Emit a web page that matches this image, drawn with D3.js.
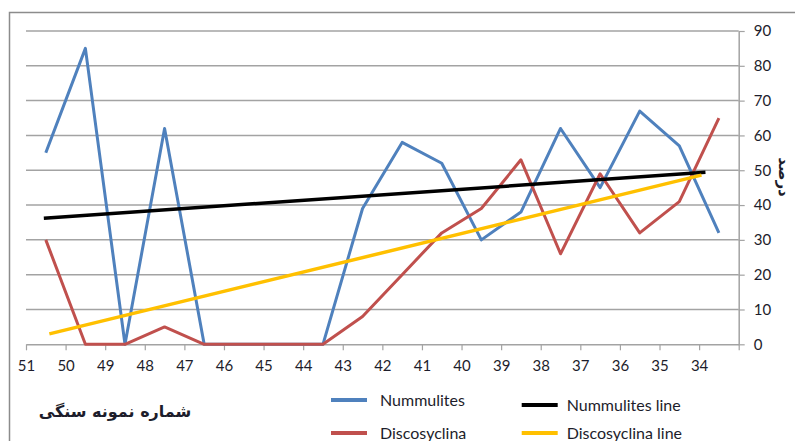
<!DOCTYPE html>
<html>
<head>
<meta charset="utf-8">
<script src="https://cdn.jsdelivr.net/npm/d3@7/dist/d3.min.js"></script>
<style>
  body { margin: 0; background: #fff; }
  svg { display: block; }
  text { font-family: Lato, "Open Sans", sans-serif; fill: #1d1d2b; }
</style>
</head>
<body>
<svg id="chart" width="795" height="441"></svg>
<script>
// Sample numbers along the section (left to right)
const sampleLabels = ["51","50","49","48","47","46","45","44","43","42","41","40","39","38","37","36","35","34"];

// Percentage of each genus per sample
const nummulites   = [55, 85, 0, 62, 0, 0, 0, 0, 39, 58, 52, 30, 38, 62, 45, 67, 57, 32];
const discosyclina = [30, 0, 0, 5, 0, 0, 0, 0, 8, 20, 32, 39, 53, 26, 49, 32, 41, 65];

// Straight guide lines: [position along sample axis, percent]
const nummulitesLine   = [[0.45, 36.2], [17.16, 49.4]];
const discosyclinaLine = [[0.59, 3.0], [17.06, 48.6]];

const yTicks = [0, 10, 20, 30, 40, 50, 60, 70, 80, 90];

const series = [
  { name: "Nummulites",        color: "#4F81BD" },
  { name: "Discosyclina",      color: "#C0504D" },
  { name: "Nummulites line",   color: "#000000" },
  { name: "Discosyclina line", color: "#FFC000" }
];

const svg = d3.select("#chart");
const gridColor = "#a3a3a3";

// Scales: samples sit in the middle of each slot, labels sit on the slot edges
const x = d3.scaleLinear().domain([0, sampleLabels.length]).range([26, 738.7]);
const y = d3.scaleLinear().domain([0, 90]).range([344.3, 31]);

// Chart frame
svg.append("rect")
  .attr("x", 9.5).attr("y", 12.5)
  .attr("width", 820).attr("height", 460)
  .attr("fill", "none").attr("stroke", "#8c8c8c").attr("stroke-width", 1.5);

// Horizontal gridlines
svg.append("g").selectAll("line")
  .data(yTicks.filter(d => d > 0))
  .join("line")
  .attr("x1", x(0)).attr("x2", x(sampleLabels.length))
  .attr("y1", d => y(d)).attr("y2", d => y(d))
  .attr("stroke", gridColor).attr("stroke-width", 1.5);

// Bottom (sample) axis
const xAxis = d3.axisBottom(x)
  .tickValues(d3.range(sampleLabels.length + 1))
  .tickFormat(i => sampleLabels[i] || "")
  .tickSize(6).tickSizeOuter(0).tickPadding(10);
const gx = svg.append("g").attr("transform", `translate(0,${y(0)})`).call(xAxis);
gx.select(".domain").attr("stroke", gridColor).attr("stroke-width", 1.5);
gx.selectAll(".tick line").attr("stroke", gridColor).attr("stroke-width", 1.2);
gx.selectAll(".tick text").style("font-size", "15px").style("font-family", "Lato, sans-serif").attr("fill", "#1d1d2b");

// Right (percent) axis
const yAxis = d3.axisRight(y)
  .tickValues(yTicks)
  .tickSize(6).tickSizeOuter(0).tickPadding(9);
const gy = svg.append("g").attr("transform", `translate(${x(sampleLabels.length)},0)`).call(yAxis);
gy.select(".domain").attr("stroke", gridColor).attr("stroke-width", 1.5);
gy.selectAll(".tick line").attr("stroke", gridColor).attr("stroke-width", 1.2);
gy.selectAll(".tick text").style("font-size", "15px").style("font-family", "Lato, sans-serif").attr("fill", "#1d1d2b");

// Data lines
const line = d3.line().x((d, i) => x(i + 0.5)).y(d => y(d));
const guide = d3.line().x(d => x(d[0])).y(d => y(d[1]));

svg.append("path").datum(nummulites)
  .attr("d", line).attr("fill", "none")
  .attr("stroke", series[0].color).attr("stroke-width", 3).attr("stroke-linejoin", "round");
svg.append("path").datum(discosyclina)
  .attr("d", line).attr("fill", "none")
  .attr("stroke", series[1].color).attr("stroke-width", 3).attr("stroke-linejoin", "round");
svg.append("path").datum(nummulitesLine)
  .attr("d", guide).attr("fill", "none")
  .attr("stroke", series[2].color).attr("stroke-width", 3.5);
svg.append("path").datum(discosyclinaLine)
  .attr("d", guide).attr("fill", "none")
  .attr("stroke", series[3].color).attr("stroke-width", 3.5);

// Axis titles
svg.append("text")
  .attr("x", 115).attr("y", 417)
  .attr("text-anchor", "middle")
  .style("font-family", "'DejaVu Sans', sans-serif")
  .style("font-size", "16px").style("font-weight", "bold")
  .attr("fill", "#000")
  .text("شماره نمونه سنگی");

svg.append("text")
  .attr("transform", "translate(779,177) rotate(90)")
  .attr("text-anchor", "middle")
  .style("font-family", "'DejaVu Sans', sans-serif")
  .style("font-size", "15px").style("font-weight", "bold")
  .attr("fill", "#000")
  .text("درصد");

// Legend
const legendPos = [
  { sx: 331, tx: 380,   y: 400 },
  { sx: 331, tx: 380,   y: 433 },
  { sx: 521.7, tx: 566.7, y: 405 },
  { sx: 521.7, tx: 566.7, y: 433 }
];
const lg = svg.append("g").selectAll("g").data(series).join("g");
lg.append("line")
  .attr("x1", (d, i) => legendPos[i].sx).attr("x2", (d, i) => legendPos[i].sx + 36)
  .attr("y1", (d, i) => legendPos[i].y).attr("y2", (d, i) => legendPos[i].y)
  .attr("stroke", d => d.color).attr("stroke-width", 4);
lg.append("text")
  .attr("x", (d, i) => legendPos[i].tx)
  .attr("y", (d, i) => legendPos[i].y)
  .attr("dy", "0.35em")
  .style("font-size", "16px")
  .text(d => d.name);
</script>
</body>
</html>
